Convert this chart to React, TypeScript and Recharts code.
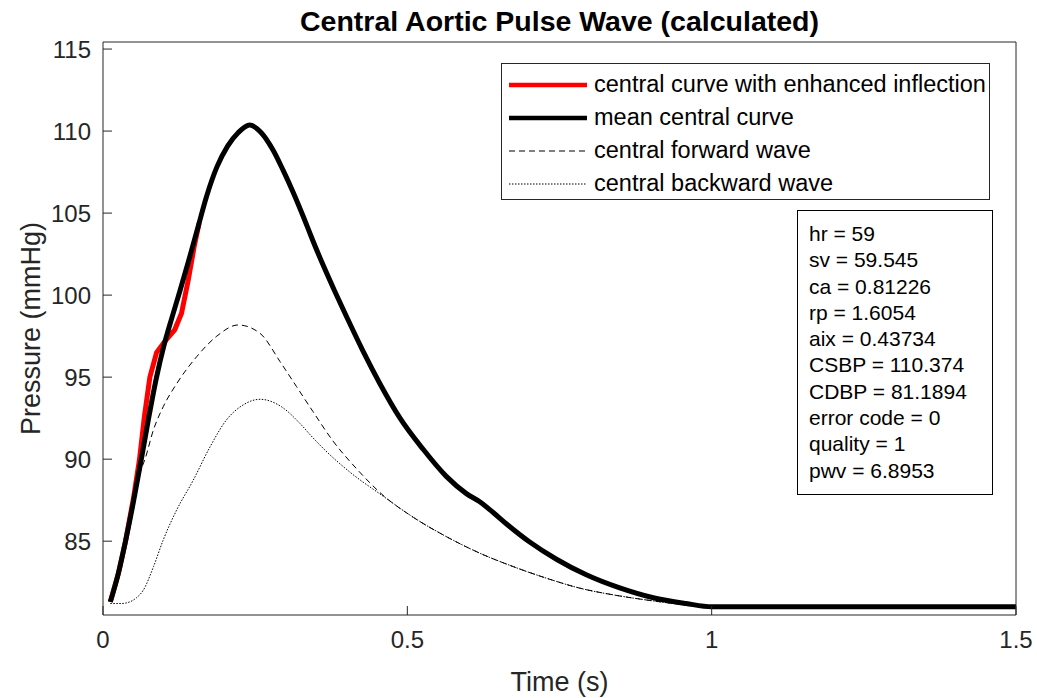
import React from 'react';
import { LineChart, Line, XAxis, YAxis, Legend } from 'recharts';

const FONT = '"Liberation Sans", Arial, Helvetica, sans-serif';
const AXIS_COLOR = '#262626';

// values: time in s, pressure in mmHg
const meanTime = [0.012, 0.025, 0.037, 0.05, 0.063, 0.075, 0.088, 0.1, 0.113, 0.126, 0.14, 0.155, 0.17, 0.187, 0.205, 0.222, 0.241, 0.26, 0.28, 0.296, 0.312, 0.33, 0.345, 0.362, 0.38, 0.4, 0.427, 0.455, 0.488, 0.526, 0.564, 0.597, 0.619, 0.641, 0.663, 0.701, 0.745, 0.794, 0.849, 0.904, 0.958, 1.0, 1.1, 1.25, 1.4, 1.5];
const meanPressure = [81.3, 83.0, 85.0, 87.4, 90.0, 92.5, 95.0, 96.9, 98.6, 100.2, 102.0, 104.0, 106.0, 107.8, 109.1, 109.9, 110.37, 109.9, 108.8, 107.6, 106.3, 104.7, 103.3, 101.8, 100.3, 98.7, 96.6, 94.6, 92.5, 90.6, 88.95, 87.9, 87.4, 86.75, 86.05, 84.95, 83.9, 82.95, 82.15, 81.55, 81.2, 81.0, 81.0, 81.0, 81.0, 81.0];

const inflectionTime = [0.012, 0.025, 0.037, 0.05, 0.06, 0.068, 0.077, 0.088, 0.102, 0.118, 0.129, 0.14, 0.15, 0.158];
const inflectionPressure = [81.3, 83.0, 85.0, 87.6, 90.0, 92.6, 95.0, 96.5, 97.2, 97.9, 98.9, 100.9, 103.0, 104.4];

const forwardTime = [0.012, 0.025, 0.037, 0.05, 0.063, 0.069, 0.083, 0.099, 0.121, 0.154, 0.187, 0.222, 0.258, 0.291, 0.318, 0.345, 0.378, 0.417, 0.46, 0.51, 0.564, 0.619, 0.674, 0.728, 0.783, 0.838, 0.892, 0.95, 1.0, 1.5];
const forwardPressure = [81.3, 83.0, 85.0, 87.4, 89.4, 90.0, 91.8, 93.2, 94.6, 96.25, 97.5, 98.18, 97.67, 95.94, 94.42, 92.9, 91.1, 89.4, 87.8, 86.45, 85.28, 84.27, 83.45, 82.75, 82.14, 81.73, 81.42, 81.15, 81.0, 81.0];

const backwardTime = [0.012, 0.03, 0.044, 0.055, 0.066, 0.083, 0.099, 0.121, 0.148, 0.176, 0.203, 0.23, 0.258, 0.293, 0.323, 0.345, 0.362, 0.406, 0.46, 0.51, 0.564, 0.619, 0.674, 0.728, 0.783, 0.838, 0.892, 0.95, 1.0, 1.5];
const backwardPressure = [81.2, 81.2, 81.3, 81.55, 82.0, 83.45, 85.08, 86.9, 88.7, 90.76, 92.4, 93.3, 93.65, 93.2, 92.2, 91.3, 90.65, 89.2, 87.75, 86.45, 85.28, 84.27, 83.45, 82.75, 82.14, 81.73, 81.42, 81.15, 81.0, 81.0];

const xTicks = [0, 0.5, 1, 1.5];
const yTicks = [85, 90, 95, 100, 105, 110, 115];

const statLines = [
  'hr = 59',
  'sv = 59.545',
  'ca = 0.81226',
  'rp = 1.6054',
  'aix = 0.43734',
  'CSBP = 110.374',
  'CDBP = 81.1894',
  'error code = 0',
  'quality = 1',
  'pwv = 6.8953',
];

const zip = (t: number[], p: number[]) => t.map((time, i) => ({ time, pressure: p[i] }));

// legend order
const series = [
  { key: 'inflection', name: 'central curve with enhanced inflection', data: zip(inflectionTime, inflectionPressure), stroke: '#ff0000', width: 5, dash: undefined, curve: 'linear' },
  { key: 'mean', name: 'mean central curve', data: zip(meanTime, meanPressure), stroke: '#000000', width: 5, dash: undefined, curve: 'monotone' },
  { key: 'forward', name: 'central forward wave', data: zip(forwardTime, forwardPressure), stroke: '#000000', width: 1, dash: '6 4', curve: 'monotone' },
  { key: 'backward', name: 'central backward wave', data: zip(backwardTime, backwardPressure), stroke: '#000000', width: 1, dash: '1.5 1.5', curve: 'monotone' },
];
// draw order: thick mean curve on top
const drawOrder = ['inflection', 'forward', 'backward', 'mean'];

const LegendBox = () => (
  <div
    style={{
      boxSizing: 'border-box',
      width: 489,
      height: 137,
      border: `1px solid ${AXIS_COLOR}`,
      background: '#fff',
      padding: '4px 0 0 7px',
      fontFamily: FONT,
      fontSize: 23.5,
      color: '#000',
    }}
  >
    {series.map((s) => (
      <div key={s.key} style={{ display: 'flex', alignItems: 'center', height: 33 }}>
        <svg width={78} height={10} style={{ marginRight: 7, flex: 'none' }}>
          <line x1={0} y1={5} x2={78} y2={5} stroke={s.stroke} strokeWidth={s.width > 2 ? 4.5 : 1} strokeDasharray={s.dash} />
        </svg>
        <span style={{ whiteSpace: 'nowrap' }}>{s.name}</span>
      </div>
    ))}
  </div>
);

const YTitle = (props: any) => {
  const { viewBox } = props;
  const cx = viewBox.x - 62;
  const cy = viewBox.y + viewBox.height / 2;
  return (
    <text
      x={cx}
      y={cy}
      transform={`rotate(-90 ${cx} ${cy})`}
      textAnchor="middle"
      fill={AXIS_COLOR}
      fontSize={27}
      fontFamily={FONT}
    >
      Pressure (mmHg)
    </text>
  );
};

const tickStyle = { fill: AXIS_COLOR, fontSize: 24, fontFamily: FONT };
const lineStyle = { stroke: AXIS_COLOR, strokeWidth: 1 };

export default function App() {
  return (
    <div style={{ position: 'absolute', left: 0, top: 0, width: 1037, height: 698, background: '#fff' }}>
      <LineChart width={1037} height={698} margin={{ top: 41, right: 20, bottom: 82, left: 102 }}>
        <XAxis
          xAxisId="b"
          dataKey="time"
          type="number"
          domain={[0, 1.5]}
          ticks={xTicks}
          allowDataOverflow
          height={1}
          tickSize={-9}
          tickMargin={25}
          tick={tickStyle}
          axisLine={lineStyle}
          tickLine={lineStyle}
          label={{ value: 'Time (s)', position: 'bottom', offset: 56, fill: AXIS_COLOR, fontSize: 27, fontFamily: FONT }}
        />
        <XAxis
          xAxisId="t"
          orientation="top"
          dataKey="time"
          type="number"
          domain={[0, 1.5]}
          ticks={xTicks}
          allowDataOverflow
          height={1}
          tickSize={-9}
          tick={false}
          axisLine={lineStyle}
          tickLine={lineStyle}
          label={{
            value: 'Central Aortic Pulse Wave (calculated)',
            position: 'top',
            offset: 10,
            fill: '#000',
            fontSize: 28.5,
            fontWeight: 'bold',
            fontFamily: FONT,
          }}
        />
        <YAxis
          yAxisId="l"
          type="number"
          domain={[80.5, 115.43]}
          ticks={yTicks}
          allowDataOverflow
          width={1}
          tickSize={-9}
          tickMargin={21}
          tick={tickStyle}
          axisLine={lineStyle}
          tickLine={lineStyle}
          label={<YTitle />}
        />
        <YAxis
          yAxisId="r"
          orientation="right"
          type="number"
          domain={[80.5, 115.43]}
          ticks={yTicks}
          allowDataOverflow
          width={1}
          tickSize={-9}
          tick={false}
          axisLine={lineStyle}
          tickLine={lineStyle}
        />
        {drawOrder.map((k) => {
          const s = series.find((x) => x.key === k)!;
          return (
            <Line
              key={s.key}
              xAxisId="b"
              yAxisId="l"
              data={s.data}
              dataKey="pressure"
              name={s.name}
              type={s.curve as any}
              stroke={s.stroke}
              strokeWidth={s.width}
              strokeDasharray={s.dash}
              dot={false}
              activeDot={false}
              isAnimationActive={false}
            />
          );
        })}
        <Legend
          layout="vertical"
          align="center"
          verticalAlign="middle"
          content={() => <LegendBox />}
          wrapperStyle={{ left: 501, top: 63, width: 489, height: 137, margin: 0 }}
        />
      </LineChart>
      <div
        style={{
          position: 'absolute',
          left: 797,
          top: 210,
          width: 196,
          height: 285,
          boxSizing: 'border-box',
          border: '1px solid #000',
          background: '#fff',
          padding: '10px 0 0 11px',
          fontFamily: FONT,
          fontSize: 21,
          lineHeight: '26.3px',
          color: '#000',
        }}
      >
        {statLines.map((l) => (
          <div key={l} style={{ whiteSpace: 'nowrap' }}>{l}</div>
        ))}
      </div>
    </div>
  );
}
